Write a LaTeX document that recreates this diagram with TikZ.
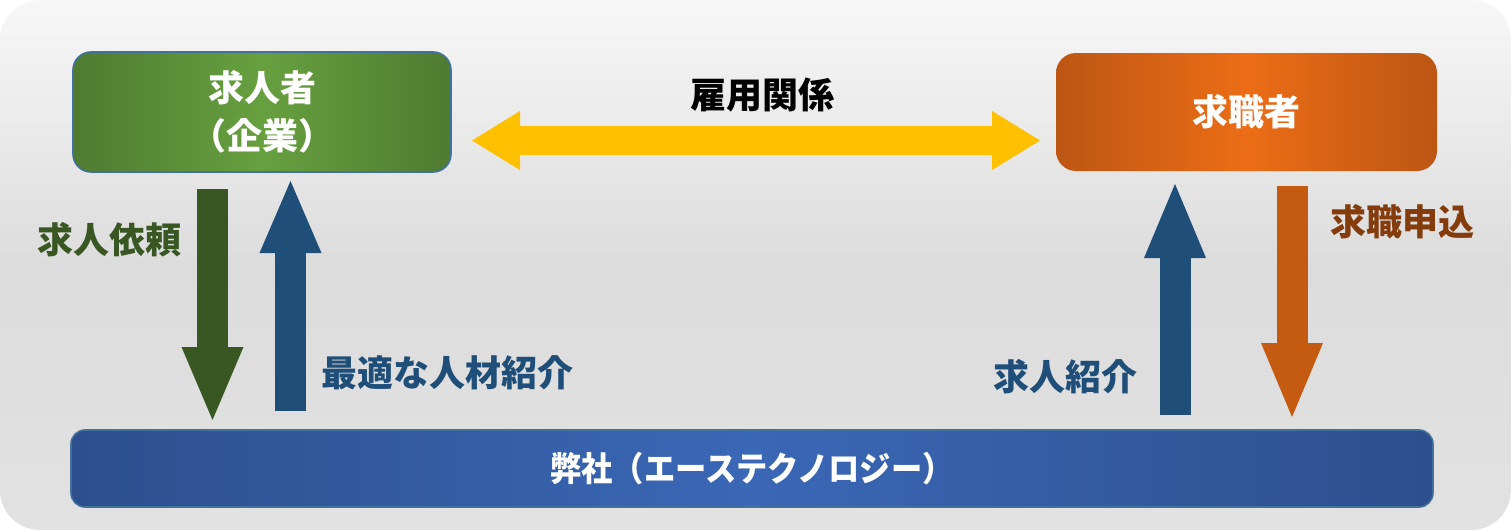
\documentclass[tikz,border=0pt]{standalone}
\usepackage{fontspec}
\setmainfont{Noto Sans CJK JP}
\usetikzlibrary{arrows.meta}
\definecolor{bgtop}{HTML}{F7F7F7}
\definecolor{bgmid}{HTML}{DCDCDC}
\definecolor{bgbot}{HTML}{E2E2E2}
\definecolor{boxline}{HTML}{41719C}
\definecolor{greenout}{HTML}{4F7B31}
\definecolor{greenin}{HTML}{67A03F}
\definecolor{orangeout}{HTML}{BC5613}
\definecolor{orangein}{HTML}{EC6D16}
\definecolor{blueout}{HTML}{2D4F8D}
\definecolor{bluein}{HTML}{3A67B6}
\definecolor{yellowarrow}{HTML}{FFC000}
\definecolor{greenarrow}{HTML}{385723}
\definecolor{bluearrow}{HTML}{1F4E79}
\definecolor{orangearrow}{HTML}{C55A11}
\definecolor{orangetext}{HTML}{843C0C}

\begin{document}
\begin{tikzpicture}[x=0.5pt,y=-0.5pt]
\tikzstyle{every node}+=[inner sep=0pt, font=\bfseries\fontsize{18pt}{24pt}\selectfont]
\useasboundingbox (0,0) rectangle (1511,530);
\fill [white] (0,0) rectangle (1511,530);
\shade [rounded corners=20pt, top color=bgtop, bottom color=bgbot, middle color=bgmid] (0,0) rectangle (1511,530);
\node (kyujin) [draw=boxline, line width=0.8pt, rounded corners=9pt, minimum width=189pt, minimum height=60pt, left color=greenout, right color=greenout, middle color=greenin, text=white, align=center] at (262,112) {求人者\\（企業）};
\node (kyushoku) [rounded corners=10pt, minimum width=190.5pt, minimum height=59pt, left color=orangeout, right color=orangeout, middle color=orangein, text=white] at (1246.5,112) {求職者};
\node (heisha) [draw=boxline, line width=0.8pt, rounded corners=7pt, minimum width=681pt, minimum height=38.5pt, left color=blueout, right color=blueout, middle color=bluein, text=white, font=\bfseries\fontsize{17pt}{20pt}\selectfont] at (752,468.5) {\scalebox{0.92}[1]{弊社（エーステクノロジー）}};
\coordinate (koyoL) at (472,140.5);
\coordinate (koyoR) at (1040,140.5);
\draw [yellowarrow, line width=14.5pt, {Triangle[width=29.5pt, length=24pt, line width=0pt]}-{Triangle[width=29.5pt, length=24pt, line width=0pt]}] (koyoL) -- (koyoR);
\draw (762,95) node {雇用関係};
\coordinate (iraiA) at (212.5,189);
\coordinate (iraiB) at (212.5,420);
\draw [greenarrow, line width=15.5pt, -{Triangle[width=31pt, length=36.5pt, line width=0pt]}] (iraiA) -- (iraiB);
\draw (110,240) node [text=greenarrow] {求人依頼};
\coordinate (saitekiA) at (290.5,411);
\coordinate (saitekiB) at (290.5,181);
\draw [bluearrow, line width=15.5pt, -{Triangle[width=31pt, length=36pt, line width=0pt]}] (saitekiA) -- (saitekiB);
\draw (447,373) node [text=bluearrow] {最適な人材紹介};
\coordinate (shokaiA) at (1175,415);
\coordinate (shokaiB) at (1175,184);
\draw [bluearrow, line width=15.5pt, -{Triangle[width=31pt, length=37pt, line width=0pt]}] (shokaiA) -- (shokaiB);
\draw (1065,377) node [text=bluearrow] {求人紹介};
\coordinate (moushiA) at (1292,186);
\coordinate (moushiB) at (1292,417);
\draw [orangearrow, line width=15.5pt, -{Triangle[width=31pt, length=37pt, line width=0pt]}] (moushiA) -- (moushiB);
\draw (1402,222) node [text=orangetext] {求職申込};
\end{tikzpicture}
\end{document}
